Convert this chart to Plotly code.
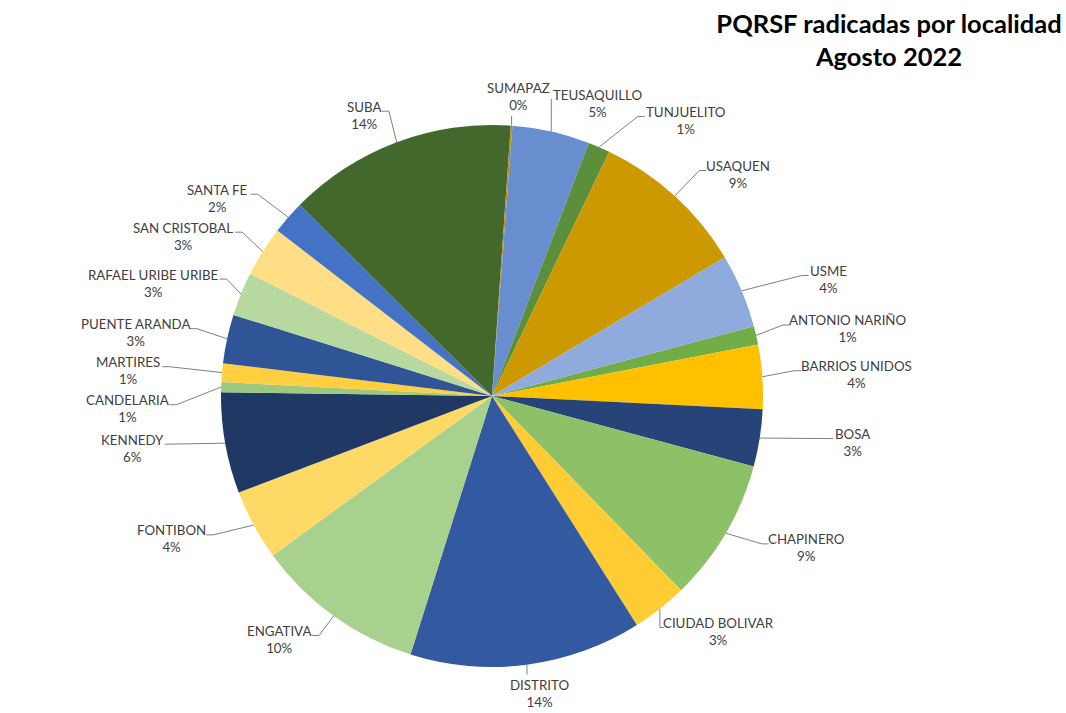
import math
import plotly.graph_objects as go

# ---------------- data ----------------
labels = ["ANTONIO NARIÑO", "BARRIOS UNIDOS", "BOSA", "CHAPINERO", "CIUDAD BOLIVAR",
          "DISTRITO", "ENGATIVA", "FONTIBON", "KENNEDY", "CANDELARIA", "MARTIRES",
          "PUENTE ARANDA", "RAFAEL URIBE URIBE", "SAN CRISTOBAL", "SANTA FE", "SUBA",
          "SUMAPAZ", "TEUSAQUILLO", "TUNJUELITO", "USAQUEN", "USME"]
values = [11, 38, 34, 85, 33, 138, 101, 42, 60, 6, 11, 29, 26, 30, 20, 136, 1, 46, 13, 93, 44]
colors = ["#70AD47", "#FFC000", "#264478", "#8CC168", "#FFCD33", "#335AA1", "#A9D18E",
          "#FFD966", "#203864", "#9DC97F", "#FFCF40", "#2F5597", "#B7D9A0", "#FFDE85",
          "#4472C4", "#43682B", "#C08A00", "#698ED0", "#5B8F3C", "#CC9A00", "#8FAADC"]
title_lines = ["PQRSF radicadas por localidad", "Agosto 2022"]

# ---------------- layout parameters ----------------
W, H = 1066, 713
CX, CY, R = 492, 396, 271
ROT = 75.1
RX, RY = 365, 300          # ellipse on which label centres sit
FS = 13.3
LINE_H = 18
GAP = 5
FONT = "Lato"


def text_width(t):
    wide = {"M": 11.5, "W": 12.5, "I": 3.8, " ": 3.4, "%": 10.5, "Ñ": 9.5, "N": 9.5,
            "O": 9.8, "Q": 9.8, "D": 9.2, "C": 8.2, "A": 8.6}
    return sum(wide.get(ch, 8.0 if not ch.isdigit() else 7.0) for ch in t)


total = sum(values)
pcts = [f"{v / total:.0%}" for v in values]

boxes = []
cum = 0
for lab, v, p in zip(labels, values, pcts):
    deg = (ROT + 360 * (cum + v / 2) / total) % 360
    mid = math.radians(deg)
    cum += v
    s, c = math.sin(mid), math.cos(mid)
    w = max(text_width(lab), text_width(p))
    h = 2 * LINE_H
    boxes.append(dict(deg=deg, s=s, c=c, w=w, h=h, x=CX + RX * s, y=CY - RY * c,
                      ex=CX + R * s, ey=CY - R * c))

# simple overlap resolution, working outward from 12 o'clock
order = sorted(range(len(boxes)), key=lambda i: min(boxes[i]["deg"], 360 - boxes[i]["deg"]))
placed = []
for i in order:
    b = boxes[i]
    for _ in range(60):
        moved = False
        for a in placed:
            ox = (a["w"] + b["w"]) / 2 + GAP - abs(a["x"] - b["x"])
            oy = (a["h"] + b["h"]) / 2 + 2 - abs(a["y"] - b["y"])
            if ox > 0 and oy > 0:
                if abs(b["s"]) > 0.7:
                    b["y"] += oy if b["y"] >= a["y"] else -oy
                else:
                    b["x"] += ox if b["x"] >= a["x"] else -ox
                moved = True
        if not moved:
            break
    placed.append(b)

# leader lines
lx, ly = [], []
for b in boxes:
    left, right = b["x"] - b["w"] / 2, b["x"] + b["w"] / 2
    if left - 2 <= b["ex"] <= right + 2:
        ty = b["y"] - b["h"] / 2 - 1 if b["c"] < 0 else b["y"] + b["h"] / 2 + 1
        pts = [(b["ex"], b["ey"]), (b["ex"], ty)]
    else:
        sg = 1 if b["ex"] < left else -1
        sx = left - 2 if sg == 1 else right + 2
        sy = b["y"] - 4
        elb = min(7, abs(sx - b["ex"]))
        pts = [(b["ex"], b["ey"]), (sx - sg * elb, sy), (sx, sy)]
    for (x, y) in pts:
        lx.append(x)
        ly.append(y)
    lx.append(None)
    ly.append(None)

fig = go.Figure()
fig.add_trace(go.Scatter(x=lx, y=ly, mode="lines", line=dict(color="#808080", width=1),
                         hoverinfo="skip", showlegend=False))
fig.add_trace(go.Pie(labels=labels, values=values, sort=False, direction="clockwise",
                     rotation=ROT, marker=dict(colors=colors, line=dict(width=0)),
                     textinfo="none", showlegend=False,
                     domain=dict(x=[(CX - R) / W, (CX + R) / W],
                                 y=[1 - (CY + R) / H, 1 - (CY - R) / H])))

annotations = []
for lab, p, b in zip(labels, pcts, boxes):
    annotations.append(dict(x=b["x"], y=b["y"], xref="x", yref="y", text=f"{lab}<br>{p}",
                            showarrow=False, xanchor="center", yanchor="middle", align="center",
                            font=dict(family=FONT, size=FS, color="#404040")))

fig.update_layout(
    width=W, height=H,
    margin=dict(l=0, r=0, t=0, b=0),
    paper_bgcolor="white", plot_bgcolor="white",
    xaxis=dict(range=[0, W], visible=False, fixedrange=True),
    yaxis=dict(range=[H, 0], visible=False, fixedrange=True),
    annotations=annotations,
    title=dict(text="<b>" + "<br>".join(title_lines) + "</b>", x=889 / W, xanchor="center",
               y=1 - 33 / H, yanchor="middle", xref="paper",
               font=dict(family=FONT, size=25.5, color="#000000")),
)

fig.write_html("out.html", config={"displayModeBar": False},
               post_script="document.body.style.margin='0';document.body.style.overflow='hidden';")
